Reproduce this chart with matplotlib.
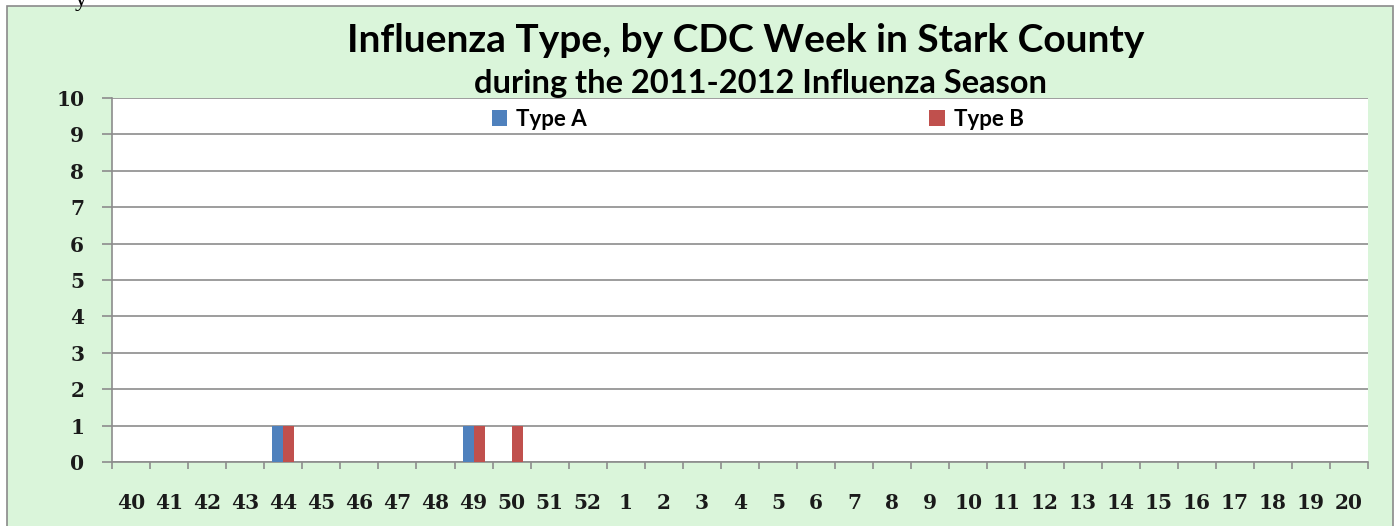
import numpy as np
import matplotlib.pyplot as plt
from matplotlib.patches import Rectangle

# CDC weeks 40-52 of 2011 and 1-20 of 2012
weeks = [str(w) for w in range(40, 53)] + [str(w) for w in range(1, 21)]
type_a = [0, 0, 0, 0, 1, 0, 0, 0, 0, 1, 0, 0, 0] + [0] * 20
type_b = [0, 0, 0, 0, 1, 0, 0, 0, 0, 1, 1, 0, 0] + [0] * 20

blue = '#4f81bd'
red = '#c0504d'
green = '#daf5da'
grid_col = '#8c8c8c'

fig = plt.figure(figsize=(13.99, 5.26), dpi=100)
fig.patch.set_facecolor('white')

# green chart frame
fig.patches.append(Rectangle((7/1399, -0.01), (1393-7)/1399, (526-6)/526 + 0.01,
                             transform=fig.transFigure, facecolor=green,
                             edgecolor='#8a8a8a', linewidth=1.2, zorder=-1))
# leftover glyph cut off at the top of the picture
fig.text(81/1399, 1.0, 'y', fontsize=18, family='Liberation Serif', va='center', ha='center')

ax = fig.add_axes([112/1399, (526-462)/526, (1368-112)/1399, (462-98)/526])
ax.set_zorder(1)
ax.set_facecolor('white')

x = np.arange(len(weeks))
w = 0.29
ax.bar(x - w/2, type_a, width=w, color=blue, label='Type A', zorder=3)
ax.bar(x + w/2, type_b, width=w, color=red, label='Type B', zorder=3)

ax.set_ylim(0, 10)
ax.set_xlim(-0.5, len(weeks) - 0.5)
ax.set_yticks(range(0, 11))
ax.yaxis.grid(True, color=grid_col, linewidth=1.2)
ax.set_axisbelow(True)

# ticks on category borders, labels in the middle
ax.set_xticks(np.arange(-0.5, len(weeks)), labels=[])
ax.set_xticks(x, labels=weeks, minor=True)
ax.tick_params(axis='x', which='major', length=5, color=grid_col, width=1.2)
ax.tick_params(axis='x', which='minor', length=0, pad=22)
ax.tick_params(axis='y', length=7, color=grid_col, width=1.2, pad=13)
for lab in ax.get_xticklabels(minor=True) + ax.get_yticklabels():
    lab.set_fontfamily('DejaVu Serif')
    lab.set_fontweight('bold')
    lab.set_fontsize(14.5)
    lab.set_color('#1a1a1a')

for s in ['top', 'right']:
    ax.spines[s].set_visible(False)
for s in ['left', 'bottom']:
    ax.spines[s].set_color(grid_col)
    ax.spines[s].set_linewidth(1.2)

leg = ax.legend(loc='center', bbox_to_anchor=(0.514, 0.942), ncol=2, frameon=False,
                handlelength=0.7, handleheight=0.7, handletextpad=0.4,
                columnspacing=15.4, prop={'family': 'Lato', 'weight': 'bold', 'size': 16})

fig.text(746/1399, 1 - 40/526, 'Influenza Type, by CDC Week in Stark County',
         family='Lato', weight='bold', fontsize=28, ha='center', va='center')
fig.text(761/1399, 1 - 83/526, 'during the 2011-2012 Influenza Season',
         family='Lato', weight='bold', fontsize=23.5, ha='center', va='center')

fig.savefig('out.png', dpi=100)
